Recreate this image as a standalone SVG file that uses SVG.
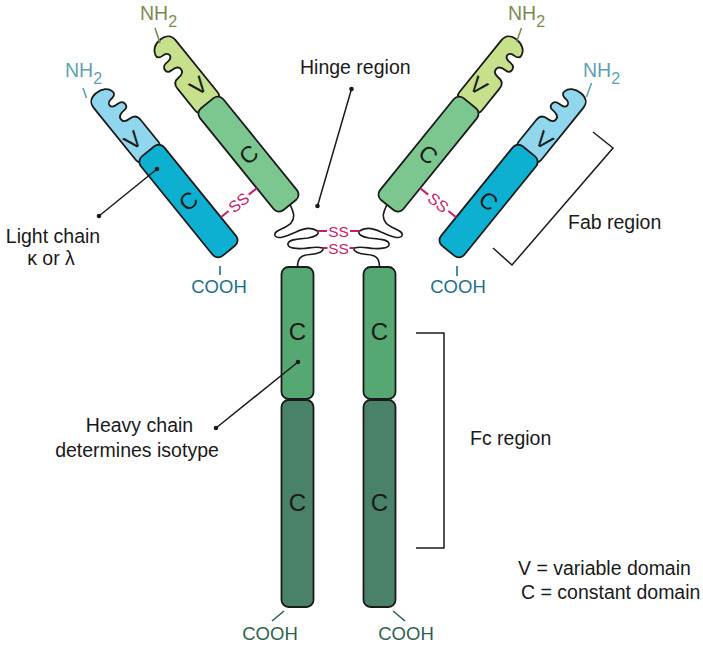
<svg xmlns="http://www.w3.org/2000/svg" width="703" height="647" viewBox="0 0 703 647">
<style>
.o{stroke:#1b1b1b;stroke-width:1.8;stroke-linejoin:round}
.hv{fill:#c6e08b}.hc{fill:#7cc68f}.lv{fill:#90d7ee}.lc{fill:#0db0d1}.f1{fill:#56a872}.f2{fill:#4a8169}
.t{font-family:"Liberation Sans",Arial,sans-serif;fill:#1a1a1a}
.lab{font-size:19.5px}
.mid{text-anchor:middle}
.dl{font-size:23px;text-anchor:middle}
.fl{font-size:24px;text-anchor:middle}
.ss{font-family:"Liberation Sans",Arial,sans-serif;fill:#c81a6c;text-anchor:middle}
.pk{stroke:#c81a6c;stroke-width:2;fill:none}
.strand{fill:none;stroke:#1b1b1b;stroke-width:1.6;stroke-linecap:round}
.lead{stroke:#1b1b1b;stroke-width:1.5;fill:none}
.dot{fill:#1b1b1b}
.nh{font-size:19.5px}
.nhH{fill:#7c8a50}.nhL{fill:#5f9fb3}
.tkH{stroke:#7c8a50;stroke-width:1.6}.tkL{stroke:#5f9fb3;stroke-width:1.6}
.co{font-size:18.5px;text-anchor:middle}
.coL{fill:#1f6f88}.coF{fill:#2f5f4f}
.tkC{stroke:#1f6f88;stroke-width:1.6}.tkF{stroke:#2f5f4f;stroke-width:1.6}
.br{fill:none;stroke:#1b1b1b;stroke-width:1.5}
</style>
<defs>
<path id="vshape" d="M 9,-124 L -10,-124 Q -15,-124 -15,-129 L -15,-196 C -15,-202 -11,-206 -4,-206 C 4,-206 9,-202 10,-197 C 11,-194 8,-192 5,-192 C 1,-192 -1,-190 -1,-188 C -1,-185 2,-184 6,-184 C 10,-184 12,-182 12,-179 C 12,-176 10,-175 7,-175 C 2,-175 -1,-173 -1,-170 C -1,-167 1,-165 6,-165 C 11,-165 14,-162 14,-157 L 14,-129 Q 14,-124 9,-124 Z"/>
</defs>

<g id="light-chain-left" transform="translate(228.7,250.8) rotate(-39)">
<use href="#vshape" class="o lv"/>
<rect x="-15" y="-128" width="30" height="128" rx="7" class="o lc"/>
<text x="-5" y="-138" class="t dl">V</text>
<text x="0" y="-56" class="t dl">C</text>
</g>
<g id="heavy-chain-left-fab" transform="translate(289.7,205) rotate(-39)">
<use href="#vshape" transform="translate(0,-4) scale(-1,1)" class="o hv"/>
<rect x="-15" y="-131" width="30" height="131" rx="7" class="o hc"/>
<text x="4" y="-142" class="t dl">V</text>
<text x="0" y="-57" class="t dl">C</text>
</g>
<g id="heavy-chain-right-fab" transform="translate(387.3,205) rotate(39)">
<use href="#vshape" transform="translate(0,-4)" class="o hv"/>
<rect x="-15" y="-131" width="30" height="131" rx="7" class="o hc"/>
<text x="-4" y="-142" class="t dl">V</text>
<text x="0" y="-57" class="t dl">C</text>
</g>
<g id="light-chain-right" transform="translate(448.3,250.8) rotate(39)">
<use href="#vshape" transform="scale(-1,1)" class="o lv"/>
<rect x="-15" y="-128" width="30" height="128" rx="7" class="o lc"/>
<text x="5" y="-138" class="t dl">V</text>
<text x="0" y="-56" class="t dl">C</text>
</g>

<g id="fc-left">
<rect x="281.5" y="400" width="32" height="207" rx="7" class="o f2"/>
<rect x="281.5" y="267" width="32" height="132" rx="7" class="o f1"/>
<text x="297.5" y="340" class="t fl">C</text>
<text x="297.5" y="511" class="t fl">C</text>
</g>
<g id="fc-right">
<rect x="363.5" y="400" width="32" height="207" rx="7" class="o f2"/>
<rect x="363.5" y="267" width="32" height="132" rx="7" class="o f1"/>
<text x="379.5" y="340" class="t fl">C</text>
<text x="379.5" y="511" class="t fl">C</text>
</g>

<g id="termini">
<text x="140" y="20" class="t nh nhH">NH<tspan font-size="16" dy="7">2</tspan></text>
<line x1="155" y1="28" x2="160" y2="43" class="tkH"/>
<text x="65" y="77" class="t nh nhL">NH<tspan font-size="16" dy="7">2</tspan></text>
<line x1="83" y1="88" x2="86.5" y2="98" class="tkL"/>
<text x="508" y="20" class="t nh nhH">NH<tspan font-size="16" dy="7">2</tspan></text>
<line x1="521.5" y1="28" x2="516.5" y2="42" class="tkH"/>
<text x="583" y="77" class="t nh nhL">NH<tspan font-size="16" dy="7">2</tspan></text>
<line x1="591.5" y1="83" x2="586.5" y2="97" class="tkL"/>
<text x="219" y="293" class="t co coL">COOH</text>
<line x1="220" y1="266" x2="220" y2="275" class="tkC"/>
<text x="458" y="293" class="t co coL">COOH</text>
<line x1="457" y1="266" x2="457" y2="276" class="tkC"/>
<text x="270" y="640" class="t co coF">COOH</text>
<line x1="284" y1="611" x2="272" y2="621" class="tkF"/>
<text x="406" y="640" class="t co coF">COOH</text>
<line x1="393" y1="611" x2="405" y2="621" class="tkF"/>
</g>

<g id="connectors">
<path class="strand" d="M 290.5,205.5 C 293,211 296,217 291,223 C 286,229 273,230 275,235.5 C 277,240 287,236 296,232 C 304,228 312,227 317.5,231 C 320,234 315,237 308,238 C 299,239 289,239 288,243.5 C 287,248 296,249 303,248.5 C 310,248 317,246 322.5,248 C 325,251 318,254 310,254.5 C 301,255 297.5,258 297.5,267"/>
<path class="strand" transform="translate(677,0) scale(-1,1)" d="M 290.5,205.5 C 293,211 296,217 291,223 C 286,229 273,230 275,235.5 C 277,240 287,236 296,232 C 304,228 312,227 317.5,231 C 320,234 315,237 308,238 C 299,239 289,239 288,243.5 C 287,248 296,249 303,248.5 C 310,248 317,246 322.5,248 C 325,251 318,254 310,254.5 C 301,255 297.5,258 297.5,267"/>
<line x1="317.5" y1="231" x2="327" y2="231" class="pk"/>
<line x1="350" y1="231" x2="359.5" y2="231" class="pk"/>
<line x1="322.5" y1="248" x2="327.5" y2="248" class="pk"/>
<line x1="349.5" y1="248" x2="354.5" y2="248" class="pk"/>
<text class="ss" font-size="15.5"><tspan x="338.5" y="236.5">SS</tspan><tspan x="338.5" y="254">SS</tspan></text>
<g transform="translate(228.7,250.8) rotate(-39)">
<line x1="15" y1="-31" x2="25" y2="-31" class="pk"/>
<line x1="51" y1="-31" x2="61.2" y2="-31" class="pk"/>
<text x="38" y="-25.5" class="ss" font-size="16">SS</text>
</g>
<g transform="translate(448.3,250.8) rotate(39)">
<line x1="-15" y1="-31" x2="-25" y2="-31" class="pk"/>
<line x1="-51" y1="-31" x2="-61.2" y2="-31" class="pk"/>
<text x="-38" y="-25.5" class="ss" font-size="16">SS</text>
</g>
<line x1="351.5" y1="89" x2="317.5" y2="206" class="lead"/>
<circle cx="351.5" cy="89" r="2.3" class="dot"/>
<circle cx="317.5" cy="206" r="2.3" class="dot"/>
<line x1="99" y1="216" x2="157" y2="169" class="lead"/>
<circle cx="99" cy="216" r="2.3" class="dot"/>
<circle cx="157" cy="169" r="2.3" class="dot"/>
<line x1="216" y1="428" x2="298" y2="362" class="lead"/>
<circle cx="216" cy="428" r="2.3" class="dot"/>
<circle cx="298" cy="362" r="2.3" class="dot"/>
</g>

<g id="brackets">
<polyline points="593,132 613,148 512,265 493,248" class="br"/>
<polyline points="416,333 444,333 444,548 416,548" class="br"/>
</g>

<g id="labels">
<text x="300" y="74" class="t lab">Hinge region</text>
<text x="53" y="243" class="t lab mid">Light chain</text>
<text x="51" y="265" class="t lab mid">κ or λ</text>
<text x="139.5" y="432" class="t lab mid">Heavy chain</text>
<text x="137" y="457" class="t lab mid">determines isotype</text>
<text x="568" y="229" class="t lab">Fab region</text>
<text x="470" y="445" class="t lab">Fc region</text>
<text x="518" y="575" class="t lab">V = variable domain</text>
<text x="521" y="599" class="t lab">C = constant domain</text>
</g>
</svg>
